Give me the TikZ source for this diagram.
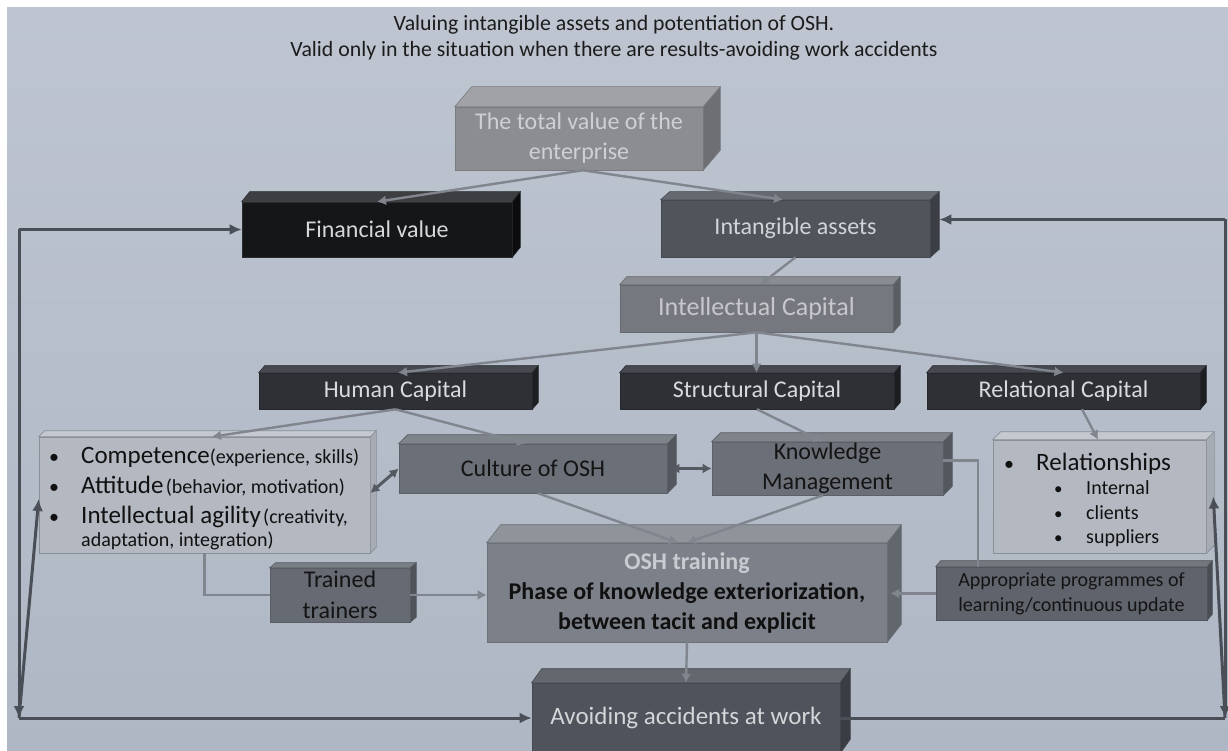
\documentclass[tikz,border=0pt]{standalone}
\usepackage{fontspec}
\setmainfont{Carlito}
\usetikzlibrary{arrows.meta,calc}
\definecolor{bgtop}{HTML}{BEC5D1}
\definecolor{bgbot}{HTML}{AFB7C4}
\definecolor{titleC}{HTML}{1C1C1C}
% total value
\definecolor{tvF}{HTML}{8B8D91}\definecolor{tvT}{HTML}{A0A2A6}\definecolor{tvS}{HTML}{6D6F74}\definecolor{tvE}{HTML}{7A7C80}\definecolor{tvX}{HTML}{CFD0D3}
% financial
\definecolor{finF}{HTML}{151618}\definecolor{finT}{HTML}{3C3E42}\definecolor{finS}{HTML}{0C0C0E}\definecolor{finE}{HTML}{2A2B2E}\definecolor{finX}{HTML}{D6D7D9}
% intangible
\definecolor{intF}{HTML}{50545B}\definecolor{intT}{HTML}{656970}\definecolor{intS}{HTML}{3B3E44}\definecolor{intE}{HTML}{45484E}\definecolor{intX}{HTML}{D2D4D7}
% intellectual
\definecolor{icpF}{HTML}{75787E}\definecolor{icpT}{HTML}{898C91}\definecolor{icpS}{HTML}{5A5D62}\definecolor{icpE}{HTML}{66696E}\definecolor{icpX}{HTML}{C6C8CC}
% capitals
\definecolor{capF}{HTML}{2E3035}\definecolor{capT}{HTML}{46494F}\definecolor{capS}{HTML}{1D1E22}\definecolor{capE}{HTML}{26282C}\definecolor{capX}{HTML}{D9DADC}
% light list boxes
\definecolor{lstF}{HTML}{B3B8C1}\definecolor{lstT}{HTML}{C4C8CF}\definecolor{lstS}{HTML}{A6ABB4}\definecolor{lstE}{HTML}{8A8F97}\definecolor{lstX}{HTML}{111111}
% culture / knowledge
\definecolor{culF}{HTML}{6B6F77}\definecolor{culT}{HTML}{7F838A}\definecolor{culS}{HTML}{53575E}\definecolor{culE}{HTML}{5C6067}\definecolor{culX}{HTML}{141414}
% appropriate
\definecolor{aprF}{HTML}{5F636B}\definecolor{aprT}{HTML}{73777E}\definecolor{aprS}{HTML}{4A4D53}\definecolor{aprE}{HTML}{52555C}\definecolor{aprX}{HTML}{141414}
% osh training
\definecolor{oshF}{HTML}{7C8088}\definecolor{oshT}{HTML}{8F939A}\definecolor{oshS}{HTML}{62666D}\definecolor{oshE}{HTML}{6C7077}\definecolor{oshX}{HTML}{101010}\definecolor{oshL}{HTML}{C8CCD0}
% trained
\definecolor{trnF}{HTML}{666A72}\definecolor{trnT}{HTML}{7A7E85}\definecolor{trnS}{HTML}{50535A}\definecolor{trnE}{HTML}{5A5D64}\definecolor{trnX}{HTML}{141414}
% avoiding
\definecolor{avdF}{HTML}{4F535B}\definecolor{avdT}{HTML}{63676E}\definecolor{avdS}{HTML}{3A3D43}\definecolor{avdE}{HTML}{45484E}\definecolor{avdX}{HTML}{D4D6D8}
% connectors
\definecolor{connC}{HTML}{80858E}
\definecolor{twoC}{HTML}{555961}
\definecolor{loopC}{HTML}{4A4E57}

\tikzset{
  cube/.style={draw, line width=0.6pt, inner sep=0pt, align=center},
  tvbox/.style={fill=tvF, draw=tvE, text=tvX, font=\fontsize{24}{30}\selectfont},
  finbox/.style={fill=finF, draw=finE, text=finX, font=\fontsize{24}{30}\selectfont},
  intbox/.style={fill=intF, draw=intE, text=intX, font=\fontsize{24}{30}\selectfont},
  icpbox/.style={fill=icpF, draw=icpE, text=icpX, font=\fontsize{26}{30}\selectfont},
  capbox/.style={fill=capF, draw=capE, text=capX, font=\fontsize{24}{30}\selectfont},
  lstbox/.style={fill=lstF, draw=lstE, text=lstX},
  culbox/.style={fill=culF, draw=culE, text=culX, font=\fontsize{24}{30}\selectfont},
  aprbox/.style={fill=aprF, draw=aprE, text=aprX, font=\fontsize{20}{25}\selectfont},
  oshbox/.style={fill=oshF, draw=oshE, text=oshX, font=\fontsize{24}{30}\selectfont\bfseries},
  trnbox/.style={fill=trnF, draw=trnE, text=trnX, font=\fontsize{24}{31}\selectfont},
  avdbox/.style={fill=avdF, draw=avdE, text=avdX, font=\fontsize{25}{30}\selectfont},
  titletext/.style={text=titleC, font=\fontsize{21.8}{25}\selectfont, inner sep=0pt},
  listtext/.style={text=lstX, anchor=base west, inner sep=0pt},
  conn/.style={draw=connC, line width=2.4pt, -{Latex[length=9pt,width=10pt]}},
  connplain/.style={draw=connC, line width=2.4pt},
  twoway/.style={draw=twoC, line width=3pt, {Latex[length=9pt,width=10pt]}-{Latex[length=9pt,width=10pt]}},
  loopline/.style={draw=loopC, line width=3pt},
  looparrow/.style={loopline, -{Latex[length=12pt,width=11pt]}},
}

% #1 name, #2 prefix, #3 x1, #4 y1, #5 x2, #6 y2, #7 depth x, #8 depth up, #9 text
\newcommand{\cbox}[9]{%
  \node[cube, #2box, minimum width={(#5)-(#3)}, minimum height={(#6)-(#4)}] (#1) at ({((#3)+(#5))/2},{((#4)+(#6))/2}) {#9};
  \filldraw[#2T, draw=#2E, line width=0.6pt] (#1.north west) -- ++(#7,-#8) -- ($(#1.north east)+(#7,-#8)$) -- (#1.north east) -- cycle;
  \filldraw[#2S, draw=#2E, line width=0.6pt] (#1.north east) -- ++(#7,-#8) -- ($(#1.south east)+(#7,-#8)$) -- (#1.south east) -- cycle;
}

\begin{document}
\begin{tikzpicture}[x=1pt,y=-1pt]
\useasboundingbox (0,0) rectangle (1228,751);
\fill[white] (0,0) rectangle (1228,751);
\shade[top color=bgtop, bottom color=bgbot] (7,8) rectangle (1228,751);

% titles
\node[titletext] (t1) at (614,25) {Valuing intangible assets and potentiation of OSH.};
\node[titletext] (t2) at (614,51) {Valid only in the situation when there are results-avoiding work accidents};

% boxes
\cbox{tv}{tv}{455}{107}{703}{170}{17}{20}{The total value of the\\enterprise}
\cbox{fin}{fin}{242}{202}{512}{257}{8}{10}{Financial value}
\cbox{int}{int}{661}{200}{930}{257}{9}{8}{Intangible assets}
\cbox{icp}{icp}{620}{285}{893}{332}{7}{8}{Intellectual Capital}
\cbox{hum}{cap}{259}{373}{532}{409}{6}{7}{Human Capital}
\cbox{str}{cap}{620}{373}{894}{409}{6}{7}{Structural Capital}
\cbox{rel}{cap}{927}{373}{1200}{409}{6}{7}{Relational Capital}
\cbox{lst}{lst}{39}{437}{370}{553}{6}{6}{}
\cbox{cul}{cul}{399}{444}{667}{493}{9}{9}{Culture of OSH}
\cbox{know}{cul}{712}{442}{943}{495}{9}{9}{Knowledge\\Management}
\cbox{rsh}{lst}{993}{440}{1206}{553}{8}{8}{}
\cbox{trn}{trn}{270}{568}{410}{622}{6}{5}{Trained\\trainers}
\cbox{apr}{apr}{936}{567}{1207}{620}{5}{6}{Appropriate programmes of\\learning/continuous update}
\cbox{osh}{osh}{487}{543}{887}{642}{14}{18}{{\color{oshL}OSH training}\\Phase of knowledge exteriorization,\\between tacit and explicit}
\cbox{avd}{avd}{532}{683}{840}{753}{10}{14}{Avoiding accidents at work}

% list content
\node[listtext, font=\fontsize{20}{24}\selectfont] (b1) at (49,463) {•};
\node[listtext, font=\fontsize{20}{24}\selectfont] (b2) at (49,493) {•};
\node[listtext, font=\fontsize{20}{24}\selectfont] (b3) at (49,523) {•};
\node[listtext] (l1) at (81,463) {{\fontsize{25}{30}\selectfont Competence}{\fontsize{20}{24}\selectfont(experience, skills)}};
\node[listtext] (l2) at (81,493) {{\fontsize{25}{30}\selectfont Attitude} {\fontsize{20}{24}\selectfont(behavior, motivation)}};
\node[listtext] (l3) at (81,523) {{\fontsize{25}{30}\selectfont Intellectual agility} {\fontsize{20}{24}\selectfont(creativity,}};
\node[listtext, font=\fontsize{20}{24}\selectfont] (l4) at (81,546) {adaptation, integration)};

% relationships content
\node[listtext, font=\fontsize{20}{24}\selectfont] (rb) at (1004,470) {•};
\node[listtext, font=\fontsize{25}{30}\selectfont] (r0) at (1036,470) {Relationships};
\node[listtext, font=\fontsize{17}{24}\selectfont] (rb1) at (1054,494) {•};
\node[listtext, font=\fontsize{17}{24}\selectfont] (rb2) at (1054,519) {•};
\node[listtext, font=\fontsize{17}{24}\selectfont] (rb3) at (1054,543) {•};
\node[listtext, font=\fontsize{20}{24}\selectfont] (r1) at (1086,494) {Internal};
\node[listtext, font=\fontsize{20}{24}\selectfont] (r2) at (1086,519) {clients};
\node[listtext, font=\fontsize{20}{24}\selectfont] (r3) at (1086,543) {suppliers};

% connectors
\draw[conn] ([xshift=4pt]tv.south) -- (fin.north);
\draw[conn] ([xshift=4pt]tv.south) -- ([xshift=-12.5pt]int.north);
\draw[conn] (int.south) -- ([xshift=3.5pt]icp.north);
\draw[conn] (icp.south) -- ([xshift=2.5pt]hum.north);
\draw[conn] (icp.south) -- (icp.south |- str.north);
\draw[conn] (icp.south) -- (rel.north);
\draw[conn] (hum.south) -- ([xshift=7.5pt]lst.north);
\draw[conn] (hum.south) -- ([xshift=-7pt]cul.north);
\draw[conn] (str.south) -- ([xshift=-4.5pt]know.north);
\draw[conn] ([xshift=18.5pt]rel.south) -- ([xshift=-1.5pt]rsh.north);
\draw[conn] ([xshift=5pt]cul.south) -- ([xshift=-9pt]osh.north);
\draw[conn] ([xshift=-4.5pt]know.south) -- (osh.north);
\draw[connplain] (lst.south) |- (trn.west);
\draw[conn] (trn.east) -- (trn.east -| osh.west);
\draw[connplain] ([yshift=8pt]know.east) -| ([xshift=-93.5pt]apr.north);
\draw[conn] (apr.west) -- ($(osh.east |- apr.west)+(3,0)$);
\draw[conn] (osh.south) -- (avd.north);
\draw[twoway] ([yshift=2pt]lst.east) -- (cul.west);
\draw[twoway] ([xshift=3pt]cul.east) -- (know.west);

% feedback loop
\coordinate (L1) at (19,229.5);
\coordinate (L2) at (19,718);
\coordinate (R1) at (1225,219.5);
\coordinate (R2) at (1225,718);
\draw[looparrow] (L1) -- (fin.west);
\draw[looparrow] (L1) -- (L2);
\draw[looparrow] (L2) -- (avd.west);
\draw[looparrow] (L2) -- ([yshift=-4pt]lst.west);
\draw[looparrow, shorten >=9pt] (R1) -- (R1 -| int.east);
\draw[looparrow] (R1) -- (R2);
\draw[loopline] (avd.east) -- (R2);
\draw[looparrow] (R2) -- ($(rsh.east)+(7,0)$);
\end{tikzpicture}
\end{document}
